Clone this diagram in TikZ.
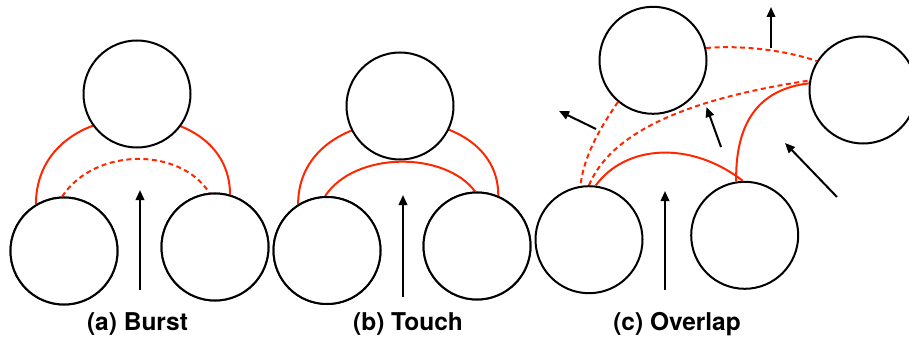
\documentclass[tikz,border=0pt]{standalone}
\usepackage{fontspec}
\setmainfont{TeX Gyre Heros}
\usetikzlibrary{arrows.meta}
\definecolor{kred}{RGB}{255,38,0}
\begin{document}
\begin{tikzpicture}[x=1pt,y=-1pt,
  bub/.style={circle,draw=black,line width=2pt,fill=white,minimum size=107pt,inner sep=0pt},
  redline/.style={draw=kred,line width=2pt},
  reddash/.style={redline,dash pattern=on 5pt off 3.5pt},
  mv/.style={draw=black,line width=2pt,-{Triangle[length=10pt,width=8.5pt]}},
  captext/.style={font=\fontsize{24.5}{29}\selectfont\bfseries,anchor=base}]
\useasboundingbox (0,0) rectangle (909,339);
\begin{scope}
\clip (0,0) rectangle (909,339);
% ---- (a) Burst
\coordinate (a1p) at (137,94);
\coordinate (a2p) at (64,251);
\coordinate (a3p) at (215,247);
\node[bub] (a2) at (a2p) {};
\node[bub] (a3) at (a3p) {};
\draw[redline] (a2.121) .. controls (36,91) and (230,91) .. (a3.74);
\draw[reddash] (a2.92) .. controls (95,147) and (180,147) .. (a3.96);
\node[bub] (a1) at (a1p) {};
\node[bub] at (a2p) {};
\node[bub] at (a3p) {};
\coordinate (aT) at (140,290);
\coordinate (aH) at (140,190);
\draw[mv] (aT) -- (aH);
\node[captext] (la) at (137.5,330.5) {(a) Burst};
% ---- (b) Touch
\node[bub] (b2) at (327,250.5) {};
\node[bub] (b3) at (477,246) {};
\draw[redline] (b2.122) .. controls (298,95) and (499,95) .. (b3.67);
\node[bub] (b1) at (400,106) {};
\draw[redline] (b2.92) .. controls (355,151) and (445,151) .. (b3.92);
\node[bub] at (327,250.5) {};
\node[bub] at (477,246) {};
\coordinate (bT) at (403,297);
\coordinate (bH) at (403,195);
\draw[mv] (bT) -- (bH);
\node[captext] (lb) at (408,330.5) {(b) Touch};
% ---- (c) Overlap
\node[bub] (c1) at (653,60.3) {};
\node[bub] (c2) at (863,90) {};
\node[bub] (c3) at (589,239.7) {};
\node[bub] (c4) at (744.7,235.3) {};
\draw[reddash] (c1.230) .. controls (597,132) and (583,160) .. (c3.99);
\draw[reddash] (c3.90) .. controls (610,135) and (680,100) .. (c2.170);
\draw[reddash] (c1.13) .. controls (740,45) and (785,50) .. (c2.148);
\draw[redline] (c3.83) .. controls (625,145) and (690,140) .. (c4.92);
\draw[redline] (c4.99) .. controls (735,110) and (770,88) .. (c2.173);
\coordinate (cT1) at (665,290);
\coordinate (cH1) at (665,191);
\coordinate (cT2) at (596,129);
\coordinate (cH2) at (559,111);
\coordinate (cT3) at (721,147);
\coordinate (cH3) at (706.5,107);
\coordinate (cT4) at (771,48);
\coordinate (cH4) at (771,7);
\coordinate (cT5) at (837,197);
\coordinate (cH5) at (785,143);
\draw[mv] (cT1) -- (cH1);
\draw[mv] (cT2) -- (cH2);
\draw[mv] (cT3) -- (cH3);
\draw[mv] (cT4) -- (cH4);
\draw[mv] (cT5) -- (cH5);
\node[captext] (lc) at (677,330.5) {(c) Overlap};
\end{scope}
\end{tikzpicture}
\end{document}
